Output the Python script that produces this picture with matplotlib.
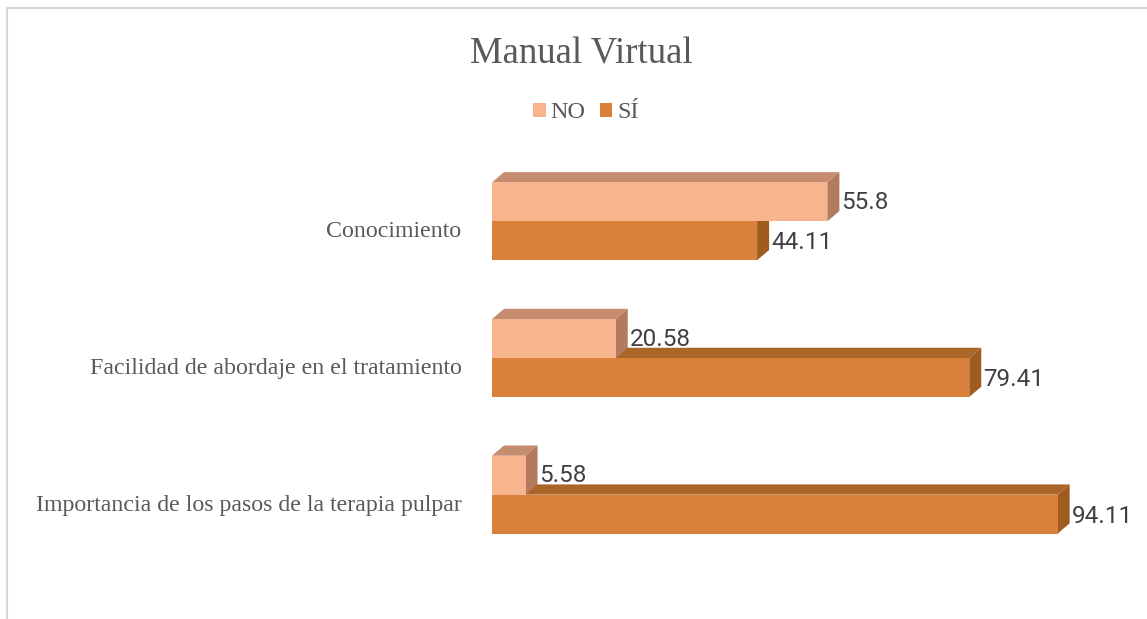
import numpy as np
import matplotlib.pyplot as plt
import matplotlib.transforms as mtransforms
from matplotlib.patches import Polygon, Rectangle, Patch
from matplotlib.lines import Line2D

categories = ["Conocimiento",
              "Facilidad de abordaje en el tratamiento",
              "Importancia de los pasos de la terapia pulpar"]
no_vals = [55.8, 20.58, 5.58]
si_vals = [44.11, 79.41, 94.11]
no_labels = ["55.8", "20.58", "5.58"]
si_labels = ["44.11", "79.41", "94.11"]

# colours: front, top, side
no_col = ("#F8B48D", "#C68C70", "#B27B5F")
si_col = ("#D9803B", "#AC6529", "#A05B1F")

W, H = 1147, 619
fig = plt.figure(figsize=(W / 100, H / 100), dpi=100)
ax = fig.add_axes([492 / W, 1 - 563 / H, 601 / W, 410 / H])
ax.set_xlim(0, 100)
ax.set_ylim(2.5, -0.5)

bh = 0.285
dx = 2.0     # depth in x units
dy = 0.075   # depth in y units


def bar3d(y, val, cols):
    top, bot = y - bh / 2, y + bh / 2
    front = Rectangle((0, top), val, bh, facecolor=cols[0], edgecolor="none")
    lid = Polygon([(0, top), (dx, top - dy), (val + dx, top - dy), (val, top)],
                  facecolor=cols[1], edgecolor="none")
    side = Polygon([(val, top), (val + dx, top - dy), (val + dx, bot - dy), (val, bot)],
                   facecolor=cols[2], edgecolor="none")
    for p in (lid, side, front):
        ax.add_patch(p)


ypos = np.arange(len(categories))
for i, y in enumerate(ypos):
    bar3d(y + bh / 2, si_vals[i], si_col)
    bar3d(y - bh / 2, no_vals[i], no_col)
    ax.text(no_vals[i] + dx + 0.3, y - bh / 2 + 0.005, no_labels[i],
            va="center", ha="left", fontsize=17.5, color="#404040", family="Roboto")
    ax.text(si_vals[i] + dx + 0.3, y + bh / 2 + 0.015, si_labels[i],
            va="center", ha="left", fontsize=17.5, color="#404040", family="Roboto")

ax.set_yticks(ypos)
ax.set_yticklabels(categories, family="Liberation Serif", fontsize=17.2, color="#595959")
ax.tick_params(axis="y", length=0, pad=22)
# labels sit a little below the bar pair in the 3D view
shift = mtransforms.ScaledTranslation(0, -8 / 100, fig.dpi_scale_trans)
for lab in ax.get_yticklabels():
    lab.set_transform(lab.get_transform() + shift)
ax.set_xticks([])
for s in ax.spines.values():
    s.set_visible(False)

fig.text(581 / W, 1 - 54 / H, "Manual Virtual", ha="center", va="center",
         family="Liberation Serif", fontsize=26.5, color="#595959")

handles = [Patch(facecolor=no_col[0]), Patch(facecolor=si_col[0])]
fig.legend(handles, ["NO", "SÍ"], loc="center", bbox_to_anchor=(586 / W, 1 - 113 / H),
           ncol=2, frameon=False, prop={"family": "Liberation Serif", "size": 17.5},
           labelcolor="#595959", handlelength=0.5, handleheight=0.5,
           handletextpad=0.2, columnspacing=0.6)

# chart border (top and left visible)
fig.add_artist(Line2D([7 / W, 1], [1 - 8 / H, 1 - 8 / H], color="#D9D9D9", lw=1.5))
fig.add_artist(Line2D([7 / W, 7 / W], [0, 1 - 8 / H], color="#D9D9D9", lw=1.5))

fig.savefig("out.png", dpi=100)
